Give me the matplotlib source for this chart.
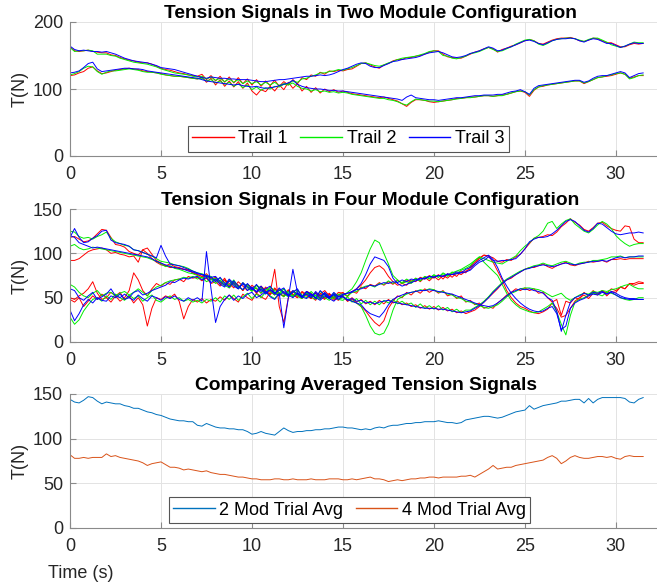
import numpy as np
import matplotlib
matplotlib.use('Agg')
import matplotlib.pyplot as plt
from matplotlib.lines import Line2D

plt.rcParams['font.family'] = ['Liberation Sans', 'DejaVu Sans']

# ---------------- data (sampled every 0.25 s, t = 0 ... 31.5 s) ----------------
T_END = 31.5

# Two-module configuration: two tension signals per trial
two_r_upper = [163,157,156,157, 158,156,155,154, 154,151,150,147, 145,143,142,140,
               139,139,137,134, 131,129,128,126, 124,123,121,120, 119,122,114,120,
               112,119,110,118, 109,117,108,115, 106,114,104,112, 105,113,104,111,
               106,114,108,117, 114,121,119,125, 122,127,126,128, 127,129,130,134,
               138,139,136,133, 131,136,138,142, 144,144,147,147, 149,150,152,155,
               157,157,152,148, 147,146,146,149, 152,155,157,160, 162,160,155,159,
               161,164,166,169, 172,174,172,168, 167,170,173,175, 176,176,177,175,
               172,171,173,176, 175,172,169,169, 166,163,163,166, 168,167,168]
two_r_lower = [120,121,124,126, 131,133,127,123, 124,126,128,129, 130,131,130,129,
               127,126,125,124, 123,121,120,119, 119,118,117,116, 115,118,110,116,
               106,114,104,112, 103,111,101,109, 97,91,99,96, 104,97,106,99,
               110,101,108,97, 104,95,102,94, 100,96,99,95, 97,95,93,92,
               91,90,89,88, 87,88,86,84, 82,78,74,80, 84,84,83,81,
               80,81,82,83, 84,86,86,87, 88,88,89,90, 90,89,90,91,
               92,94,96,97, 95,89,98,103, 104,106,107,108, 109,110,111,112,
               112,108,111,114, 117,118,119,120, 122,124,122,116, 118,120,120]
two_g_upper = [162,156,157,157, 158,157,152,152, 152,150,149,146, 144,142,140,139,
               138,137,135,133, 130,128,126,124, 123,122,121,119, 118,119,115,118,
               113,116,111,115, 110,114,108,112, 108,111,106,110, 106,110,105,108,
               108,112,110,115, 116,119,121,124, 124,126,127,129, 128,130,132,135,
               138,139,137,135, 134,136,139,141, 144,146,147,148, 149,151,153,156,
               157,156,150,149, 146,145,147,149, 153,154,156,159, 162,159,156,157,
               160,163,167,170, 173,174,172,167, 165,168,172,174, 175,176,176,175,
               173,171,174,176, 176,173,170,166, 164,162,164,167, 170,169,169]
two_g_lower = [121,123,126,131, 134,133,126,122, 125,127,127,128, 129,130,129,128,
               126,125,125,124, 122,121,120,119, 119,118,117,116, 115,116,112,114,
               109,112,107,110, 104,108,102,106, 99,103,98,102, 100,104,103,107,
               106,109,104,101, 100,97,99,96, 97,95,96,94, 95,94,92,91,
               90,89,88,87, 86,86,84,83, 81,78,76,81, 85,84,83,82,
               82,81,82,83, 84,85,86,87, 87,88,89,90, 90,89,90,90,
               92,94,96,97, 96,91,99,103, 105,106,107,108, 109,110,111,112,
               112,109,111,114, 117,118,120,121, 123,124,122,115, 117,120,121]
two_b_upper = [164,159,157,158, 157,156,156,155, 156,154,152,149, 146,144,142,141,
               140,139,137,135, 132,131,130,129, 127,125,123,121, 119,117,116,118,
               117,116,116,115, 115,114,114,114, 113,112,111,111, 112,113,114,114,
               115,116,117,118, 119,119,120,121, 120,121,123,126, 129,131,134,137,
               139,138,134,132, 132,135,138,141, 142,144,145,146, 147,149,152,154,
               155,156,154,151, 148,147,148,150, 153,155,157,160, 163,161,157,158,
               161,163,166,169, 172,173,171,168, 166,169,172,174, 175,175,176,175,
               172,170,173,175, 174,171,168,168, 165,162,164,167, 169,168,168]
two_b_lower = [124,125,127,132, 138,140,130,126, 127,128,129,130, 131,131,130,130,
               129,127,126,125, 124,123,122,121, 120,119,118,117, 116,114,112,111,
               110,109,108,107, 106,107,105,104, 103,104,102,101, 102,103,105,107,
               109,113,107,104, 102,101,100,100, 99,98,98,97, 97,96,95,94,
               93,92,91,90, 89,88,87,86, 85,83,88,91, 87,86,85,84,
               84,83,84,85, 86,87,87,88, 89,90,90,91, 91,91,92,92,
               94,96,97,99, 96,92,101,105, 106,107,108,109, 110,111,112,113,
               113,110,112,116, 119,120,120,122, 124,126,124,117, 120,123,124]

# Four-module configuration: four tension signals (A-D) per trial
four_r_a = [118,119,116,113, 114,117,122,127, 126,118,110,109, 107,102,100,98,
            104,106,99,92, 89,86,88,85, 84,82,82,78, 76,74,77,71,
            73,65,70,66, 61,68,63,58, 64,60,55,62, 57,53,60,56,
            52,58,54,50, 57,55,49,54, 58,52,50,56, 55,52,57,60,
            64,70,78,84, 86,82,74,68, 64,66,64,70, 68,73,71,75,
            72,76,71,77, 73,78,76,80, 82,88,94,98, 97,95,91,90,
            93,92,96,99, 105,111,117,118, 119,121,120,124, 130,134,139,135,
            132,127,125,129, 134,135,131,128, 126,125,131,130, 116,112,112]
four_g_a = [125,124,119,117, 118,116,119,121, 124,117,113,111, 109,108,104,103,
            101,99,97,94, 91,90,89,87, 86,85,83,80, 78,77,75,74,
            69,72,67,64, 70,62,66,63, 58,64,61,56, 62,58,55,60,
            53,57,59,52, 56,54,50,57, 53,49,55,52, 52,56,60,68,
            78,92,105,115, 112,100,88,75, 70,66,68,66, 71,69,74,72,
            76,73,78,75, 79,77,81,83, 86,92,96,94, 92,90,89,88,
            91,94,97,103, 108,112,117,120, 125,134,136,128, 133,137,139,133,
            129,125,123,127, 132,136,133,128, 120,115,111,108, 110,111,111]
four_b_a = [118,128,118,112, 113,117,120,125, 126,115,112,111, 110,108,104,103,
            101,99,97,95, 109,97,88,87, 86,84,82,80, 78,76,75,73,
            74,68,64,71, 66,60,67,62, 59,65,57,60, 63,55,58,61,
            52,56,60,51, 57,54,49,58, 53,50,56,51, 54,55,56,60,
            66,76,88,96, 94,92,85,72, 66,63,65,67, 69,71,72,74,
            73,75,74,76, 76,77,78,79, 81,86,90,92, 96,92,91,92,
            92,93,94,99, 105,113,116,118, 118,119,122,126, 131,136,138,136,
            131,126,124,128, 134,133,129,125, 122,121,122,123, 123,124,123]

four_r_b = [92,92,94,98, 102,104,105,106, 104,100,101,99, 98,96,97,90,
            104,100,94,90, 87,86,84,84, 83,82,81,78, 76,74,74,71,
            70,66,72,63, 67,64,58,65, 61,56,63,58, 54,61,55,52,
            59,53,50,57, 54,49,56,52, 50,55,49,53, 56,51,57,55,
            62,60,65,63, 67,64,68,65, 70,66,70,67, 72,68,73,69,
            74,70,75,72, 77,74,80,78, 85,90,95,98, 97,90,80,70,
            58,50,44,40, 38,35,33,32, 34,37,44,38, 28,30,38,46,
            50,53,49,55, 53,58,52,57, 56,62,60,66, 64,66,66]
four_g_b = [108,110,106,104, 105,107,106,105, 104,103,102,101, 100,99,98,97,
            96,95,93,91, 88,85,86,83, 82,80,78,77, 75,72,74,70,
            72,68,63,70, 65,60,67,61, 57,64,59,55, 62,56,53,60,
            55,51,58,53, 50,57,52,48, 55,51,49,54, 54,52,56,57,
            61,63,64,62, 66,65,69,66, 69,67,71,68, 72,69,74,71,
            75,73,77,74, 78,80,82,85, 88,92,96,90, 85,80,75,65,
            55,47,42,38, 36,34,33,34, 37,40,44,34, 20,8,30,45,
            48,50,53,55, 54,52,56,55, 53,50,48,47, 48,50,50]
four_b_b = [120,118,112,110, 108,106,107,106, 105,104,103,102, 101,100,99,98,
            97,96,94,91, 89,87,85,84, 83,82,80,79, 77,76,74,73,
            68,73,66,62, 69,63,59,66, 60,57,63,56, 59,54,61,55,
            52,58,54,50, 57,52,55,49, 56,51,53,48, 53,55,57,59,
            60,62,64,63, 65,67,66,68, 67,70,68,71, 70,72,71,74,
            73,75,74,77, 76,79,78,82, 84,88,92,95, 98,93,84,72,
            63,55,49,44, 40,37,35,34, 35,38,40,32, 14,18,38,44,
            47,49,52,54, 53,56,54,57, 55,52,50,49, 49,48,48]

four_r_c = [50,48,52,55, 60,68,55,48, 50,56,52,46, 50,58,78,70,
            58,52,60,66, 63,67,65,70, 71,68,74,72, 73,69,72,66,
            68,63,70,61, 66,64,58,65, 61,55,62,57, 53,60,55,51,
            58,54,50,56, 52,49,55,51, 48,54,50,47, 52,46,50,45,
            48,43,46,42, 47,43,48,44, 46,42,44,40, 42,38,41,37,
            40,36,39,35, 37,33,35,32, 34,36,40,45, 50,55,60,66,
            70,72,76,79, 82,84,84,86, 88,85,83,86, 88,90,87,86,
            88,89,91,90, 91,92,90,93, 93,94,93,94, 94,94,94]
four_g_c = [65,62,56,52, 50,55,58,52, 55,56,52,55, 57,53,56,60,
            56,52,58,62, 64,67,69,70, 71,73,72,74, 71,73,68,71,
            66,70,64,61, 68,62,59,65, 58,61,55,60, 57,53,59,54,
            51,57,52,49, 55,51,48,53, 50,47,52,48, 47,51,45,49,
            43,47,42,46, 42,47,44,48, 43,46,42,44, 39,43,38,41,
            37,41,36,39, 34,37,33,36, 36,39,42,46, 51,57,62,67,
            71,74,77,80, 82,84,86,87, 89,87,86,88, 90,91,89,87,
            89,90,90,92, 92,93,94,96, 96,97,95,96, 96,96,96]
four_b_c = [60,58,50,47, 52,56,48,51, 54,60,52,50, 54,50,56,58,
            53,55,58,60, 62,64,68,67, 70,72,71,73, 74,70,73,67,
            71,65,62,69, 63,60,66,58, 62,56,60,54, 59,55,52,57,
            53,50,55,51, 49,54,50,47, 52,49,46,51, 51,47,49,46,
            47,44,45,43, 45,46,47,45, 44,43,42,41, 40,39,38,38,
            38,37,37,36, 35,34,33,34, 35,38,41,45, 50,56,61,66,
            70,73,76,79, 82,83,85,86, 87,86,85,86, 88,89,88,87,
            88,89,90,91, 91,92,91,93, 95,96,95,96, 96,97,97]

four_r_d = [48,45,50,40, 46,52,48,54, 50,45,52,56, 48,52,44,50,
            42,18,38,50, 48,52,50,54, 46,26,40,48, 45,49,44,48,
            46,51,47,53, 49,45,54,50, 47,55,51,48, 56,82,40,22,
            50,57,52,49, 56,51,47,55, 49,52,47,53, 52,46,48,44,
            40,35,28,22, 18,24,38,46, 52,50,56,53, 58,55,60,56,
            59,55,58,52, 54,49,52,45, 47,42,44,38, 40,38,44,48,
            53,56,60,58, 61,58,60,55, 56,50,45,48, 30,46,44,50,
            48,56,52,58, 54,58,55,60, 58,62,60,66, 66,68,67]
four_g_d = [28,20,25,35, 42,48,50,46, 52,48,54,50, 47,53,49,52,
            46,50,53,47, 45,49,52,48, 50,46,48,45, 47,44,48,46,
            50,45,52,48, 53,47,51,55, 49,54,50,56, 52,49,55,51,
            57,52,54,50, 56,51,53,49, 55,50,54,48, 50,48,46,44,
            40,30,18,10, 8,10,20,36, 48,51,54,56, 57,59,58,60,
            59,56,57,54, 53,50,49,46, 45,43,41,39, 38,40,42,46,
            51,55,57,60, 61,61,60,59, 57,54,51,53, 55,50,47,50,
            53,55,54,57, 56,58,57,59, 60,62,64,65, 62,60,60]
four_b_d = [36,24,32,42, 48,44,50,47, 46,52,50,54, 48,50,47,53,
            49,46,52,50, 47,51,49,52, 48,46,50,47, 50,46,102,60,
            22,40,48,53, 47,52,49,54, 56,50,53,57, 51,48,55,16,
            50,82,56,51, 54,50,57,52, 55,49,54,51, 51,48,46,44,
            42,36,32,30, 28,34,42,48, 51,53,55,56, 57,58,58,59,
            58,57,56,55, 54,52,50,48, 46,44,42,41, 40,41,44,48,
            52,56,58,60, 59,60,58,57, 55,50,47,35, 12,30,45,50,
            52,55,53,56, 55,57,54,56, 53,50,49,48, 48,48,48]

# Averaged signals
avg_two_mod = [144,141,140,143, 147,146,142,139, 141,140,139,139, 137,136,134,134,
               132,130,129,127, 126,124,122,121, 120,120,119,119, 115,114,117,115,
               113,112,112,111, 111,110,110,108, 105,106,108,106, 105,104,108,112,
               109,107,108,108, 109,109,110,110, 111,111,112,113, 113,112,112,111,
               110,111,110,112, 113,112,114,115, 115,116,117,117, 118,118,119,119,
               119,120,119,118, 118,117,118,121, 122,123,124,125, 125,124,123,124,
               126,128,130,131, 132,137,133,135, 137,138,139,140, 142,142,143,144,
               144,140,145,140, 144,146,146,146, 146,146,145,141, 140,144,146]
avg_four_mod = [82,78,78,79, 78,79,79,79, 83,80,81,79, 78,77,76,75,
                73,70,72,73, 74,71,68,68, 67,65,66,65, 64,63,64,62,
                61,60,60,59, 58,57,57,56, 55,55,54,54, 54,55,55,54,
                54,55,54,54, 54,55,54,54, 54,55,55,55, 54,54,55,54,
                55,56,57,55, 55,54,52,53, 54,53,54,55, 55,56,56,57,
                57,56,57,57, 57,57,58,58, 59,57,60,63, 66,70,66,67,
                68,68,70,71, 72,73,74,75, 76,79,81,78, 72,75,79,81,
                79,78,78,79, 80,80,79,80, 78,77,80,81, 80,80,80]

trial_labels = ['Trail 1', 'Trail 2', 'Trail 3']
trial_colors = ['#ff0000', '#00ee00', '#0000ff']
avg_labels = ['2 Mod Trial Avg', '4 Mod Trial Avg']
avg_colors = ['#0072BD', '#D95319']
titles = ['Tension Signals in Two Module Configuration',
          'Tension Signals in Four Module Configuration',
          'Comparing Averaged Tension Signals']
x_ticks = [0, 5, 10, 15, 20, 25, 30]

two_mod = [[two_r_upper, two_r_lower], [two_g_upper, two_g_lower], [two_b_upper, two_b_lower]]
four_mod = [[four_r_a, four_r_b, four_r_c, four_r_d],
            [four_g_a, four_g_b, four_g_c, four_g_d],
            [four_b_a, four_b_b, four_b_c, four_b_d]]
averages = [avg_two_mod, avg_four_mod]

# ---------------- figure ----------------
W_PX, H_PX = 657, 586
fig = plt.figure(figsize=(W_PX / 100, H_PX / 100), dpi=100)
left = 70 / W_PX
width = 1 - left
boxes = [(22, 156), (209, 342), (394, 528)]
axes = [fig.add_axes([left, 1 - b / H_PX, width, (b - t) / H_PX]) for t, b in boxes]

GRAY = '#262626'
SPINE = '#8a8a8a'
LW = 0.7


def tvec(vals):
    return np.linspace(0, T_END, len(vals))


def style(ax, ylim, yticks, title, tx):
    ax.set_xlim(0, 32.26)
    ax.set_ylim(*ylim)
    ax.set_xticks(x_ticks)
    ax.set_yticks(yticks)
    ax.grid(True, color='#e3e3e3', lw=0.7)
    ax.set_axisbelow(True)
    for s in ['top', 'right']:
        ax.spines[s].set_visible(False)
    for s in ['left', 'bottom']:
        ax.spines[s].set_color(SPINE)
        ax.spines[s].set_linewidth(0.8)
    ax.tick_params(direction='in', length=4, width=0.8, color=SPINE,
                   labelsize=13, labelcolor=GRAY)
    ax.tick_params(axis='x', pad=7)
    ax.tick_params(axis='y', pad=5)
    ax.set_ylabel('T(N)', fontsize=13, color=GRAY, labelpad=3)
    ax.set_title(title, fontsize=13.8, fontweight='bold', color='black', pad=2, x=tx)


def legend(ax, colors, labels, ncol, xc, yb):
    handles = [Line2D([], [], color=c, lw=1.0) for c in colors]
    leg = ax.legend(handles, labels, loc='lower center', bbox_to_anchor=(xc, yb),
                    ncol=ncol, fontsize=13, frameon=True, fancybox=False,
                    edgecolor='#555555', framealpha=1, handlelength=2.3,
                    handletextpad=0.25, columnspacing=0.7, borderpad=0.25,
                    borderaxespad=0)
    leg.get_frame().set_linewidth(0.8)
    for txt in leg.get_texts():
        txt.set_color('black')
    return leg


# Top: two-module
ax = axes[0]
for series, col in zip(two_mod, trial_colors):
    for vals in series:
        ax.plot(tvec(vals), vals, color=col, lw=LW)
style(ax, (0, 200), [0, 100, 200], titles[0], 0.512)
legend(ax, trial_colors, trial_labels, 3, 0.474, 0.03)

# Middle: four-module
ax = axes[1]
for series, col in zip(four_mod, trial_colors):
    for vals in series:
        ax.plot(tvec(vals), vals, color=col, lw=LW)
style(ax, (0, 150), [0, 50, 100, 150], titles[1], 0.512)

# Bottom: averages
ax = axes[2]
for vals, col in zip(averages, avg_colors):
    ax.plot(tvec(vals), vals, color=col, lw=LW)
style(ax, (0, 150), [0, 50, 100, 150], titles[2], 0.505)
legend(ax, avg_colors, avg_labels, 2, 0.476, 0.037)
ax.set_xlabel('Time (s)', fontsize=13, color=GRAY)
ax.xaxis.set_label_coords((81 - 70) / 586, (528 - 565) / 134)

fig.savefig('out.png', dpi=100)
